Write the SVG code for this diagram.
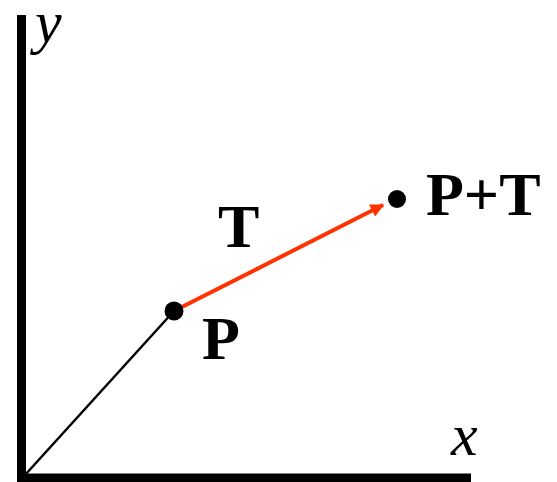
<svg xmlns="http://www.w3.org/2000/svg" width="557" height="482" viewBox="0 0 557 482">
<style>
.lbl{font-family:"Liberation Serif","Times New Roman",serif;font-weight:bold;font-size:62px;fill:#000}
.ax{font-family:"Liberation Serif","Times New Roman",serif;font-style:italic;font-size:60px;fill:#000}
.axis{stroke:#000;stroke-width:9;fill:none}
.pt{fill:#000}
</style>
<defs>
<marker id="ah" viewBox="0 0 10 10" refX="9" refY="5" markerWidth="4.2" markerHeight="3.4" orient="auto" markerUnits="strokeWidth">
<path d="M0,0 L10,5 L0,10 Z" fill="#ff3300"/>
</marker>
</defs>
<g id="axes">
<line class="axis" x1="21.5" y1="15" x2="21.5" y2="482"/>
<line class="axis" x1="17" y1="478" x2="471" y2="478"/>
<text class="ax" x="35" y="42">y</text>
<text class="ax" x="451" y="455">x</text>
</g>
<g id="connectors">
<line x1="25" y1="475" x2="174" y2="311" stroke="#000" stroke-width="2.5"/>
<line x1="174" y1="311" x2="383" y2="205" stroke="#ff3300" stroke-width="4" marker-end="url(#ah)"/>
</g>
<g id="nodeP">
<circle class="pt" cx="174" cy="311" r="9.5"/>
<text class="lbl" x="202" y="359">P</text>
</g>
<g id="nodePT">
<circle class="pt" cx="397" cy="199" r="9"/>
<text class="lbl" x="426" y="215">P+T</text>
</g>
<g id="labelT">
<text class="lbl" x="218" y="247">T</text>
</g>
</svg>
